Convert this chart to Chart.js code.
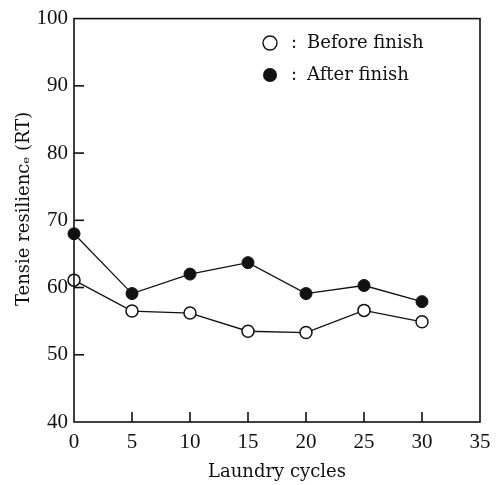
<!DOCTYPE html>
<html>
<head>
<meta charset="utf-8">
<script src="https://cdn.jsdelivr.net/npm/chart.js@4.4.1/dist/chart.umd.min.js"></script>
<style>
  html, body { margin: 0; padding: 0; background: #fff; }
  #wrap { width: 501px; height: 485px; position: relative; }
</style>
</head>
<body>
<div id="wrap"><canvas id="chart"></canvas></div>
<script>
const cycles = [0, 5, 10, 15, 20, 25, 30];
const beforeFinish = [61.1, 56.5, 56.2, 53.5, 53.3, 56.6, 54.9];
const afterFinish = [68.0, 59.1, 62.0, 63.7, 59.1, 60.3, 57.9];
const xTicks = [0, 5, 10, 15, 20, 25, 30, 35];
const yTicks = [40, 50, 60, 70, 80, 90, 100];
const legendLabels = ['Before finish', 'After finish'];

const ink = '#111';
const tickFont = { family: 'Liberation Serif', size: 21 };
const titleFont = { family: 'DejaVu Serif', size: 18 };

const toPoints = (ys) => cycles.map((c, i) => ({ x: c, y: ys[i] }));

// frame, inner ticks and the legend box in the upper right
const framePlugin = {
  id: 'frame',
  afterDraw(chart) {
    const { ctx, chartArea: a, scales } = chart;
    ctx.save();
    ctx.strokeStyle = ink;
    ctx.lineWidth = 1.6;
    ctx.strokeRect(a.left, a.top, a.right - a.left, a.bottom - a.top);

    yTicks.slice(1, -1).forEach(v => {
      const y = scales.y.getPixelForValue(v);
      ctx.beginPath();
      ctx.moveTo(a.left, y);
      ctx.lineTo(a.left + 10, y);
      ctx.stroke();
    });
    xTicks.slice(1, -1).forEach(v => {
      const x = scales.x.getPixelForValue(v);
      ctx.beginPath();
      ctx.moveTo(x, a.bottom);
      ctx.lineTo(x, a.bottom - 10);
      ctx.stroke();
    });

    // legend
    const lx = 270;
    const rows = [43, 75];
    ctx.font = '18px "DejaVu Serif"';
    ctx.textBaseline = 'middle';
    rows.forEach((ry, i) => {
      ctx.beginPath();
      ctx.arc(lx, ry, 7, 0, Math.PI * 2);
      if (i === 0) {
        ctx.fillStyle = '#fff';
        ctx.fill();
        ctx.lineWidth = 1.4;
        ctx.stroke();
      } else {
        ctx.fillStyle = ink;
        ctx.fill();
      }
      ctx.fillStyle = ink;
      ctx.fillText(':', lx + 21, ry);
      ctx.fillText(legendLabels[i], lx + 37, ry);
    });
    ctx.restore();
  }
};

const ctx = document.getElementById('chart').getContext('2d');
new Chart(ctx, {
  type: 'line',
  data: {
    datasets: [
      {
        label: legendLabels[1],
        data: toPoints(afterFinish),
        borderColor: ink,
        borderWidth: 1.3,
        pointRadius: 6,
        pointBackgroundColor: ink,
        pointBorderColor: ink,
        pointBorderWidth: 1,
        tension: 0,
        clip: false
      },
      {
        label: legendLabels[0],
        data: toPoints(beforeFinish),
        borderColor: ink,
        borderWidth: 1.3,
        pointRadius: 6,
        pointBackgroundColor: '#fff',
        pointBorderColor: ink,
        pointBorderWidth: 1.5,
        tension: 0,
        clip: false
      }
    ]
  },
  options: {
    responsive: true,
    maintainAspectRatio: false,
    animation: false,
    layout: { padding: { left: 0, right: 21, top: 15, bottom: 0 } },
    scales: {
      x: {
        type: 'linear',
        min: 0,
        max: 35,
        afterBuildTicks: (s) => { s.ticks = xTicks.map(v => ({ value: v })); },
        afterFit: (s) => { s.height = 63; },
        grid: { display: false, drawTicks: false },
        border: { display: false },
        ticks: { color: ink, font: tickFont, padding: 8, maxRotation: 0 },
        title: {
          display: true,
          text: 'Laundry cycles',
          color: ink,
          font: titleFont,
          padding: { top: 0, bottom: 2 }
        }
      },
      y: {
        min: 40,
        max: 100,
        afterBuildTicks: (s) => { s.ticks = yTicks.map(v => ({ value: v })); },
        afterFit: (s) => { s.width = 74; },
        grid: { display: false, drawTicks: false },
        border: { display: false },
        ticks: { color: ink, font: tickFont, padding: 6 },
        title: {
          display: true,
          text: '\u00a0\u00a0\u00a0\u00a0Tensie resilienc\u2091 (RT)',
          color: ink,
          font: titleFont,
          padding: { top: 14, bottom: 0 }
        }
      }
    },
    plugins: {
      legend: { display: false },
      tooltip: { enabled: false }
    }
  },
  plugins: [framePlugin]
});
</script>
</body>
</html>
